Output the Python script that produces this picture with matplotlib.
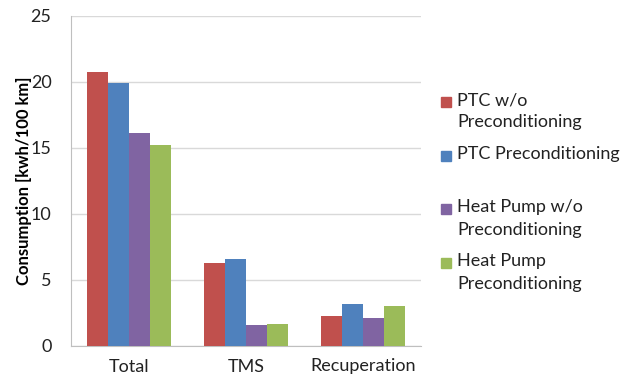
import matplotlib.pyplot as plt
from matplotlib.patches import Rectangle
import numpy as np

plt.rcParams['font.family'] = ['Lato', 'DejaVu Sans']

categories = ['Total', 'TMS', 'Recuperation']
series = ['PTC w/o\nPreconditioning', 'PTC Preconditioning',
          'Heat Pump w/o\nPreconditioning', 'Heat Pump\nPreconditioning']
ptc_wo = [20.75, 6.3, 2.27]
ptc_pre = [19.95, 6.6, 3.18]
hp_wo = [16.1, 1.57, 2.14]
hp_pre = [15.2, 1.64, 3.03]
colors = ['#C0504D', '#4F81BD', '#8064A2', '#9BBB59']

values = [ptc_wo, ptc_pre, hp_wo, hp_pre]

fig = plt.figure(figsize=(6.3, 3.81), dpi=100)
ax = fig.add_axes([71 / 630, 35 / 381, 350 / 630, 330 / 381])

x = np.arange(len(categories))
w = 0.18
for i, (vals, c) in enumerate(zip(values, colors)):
    ax.bar(x + (i - 1.5) * w, vals, w, color=c, zorder=3)

ax.set_xlim(-0.5, 2.5)
ax.set_ylim(0, 25)
ax.set_yticks([0, 5, 10, 15, 20, 25])
ax.set_xticks(x)
ax.set_xticklabels(categories)
ax.tick_params(axis='both', length=0, labelsize=13, colors='#222222')
ax.tick_params(axis='y', pad=14)
ax.tick_params(axis='x', pad=9)
ax.grid(axis='y', color='#D9D9D9', linewidth=1, zorder=0)
for s in ['top', 'right']:
    ax.spines[s].set_visible(False)
for s in ['left', 'bottom']:
    ax.spines[s].set_color('#BFBFBF')
ax.set_ylabel('Consumption [kwh/100 km]', fontsize=12, fontweight='bold')
ax.yaxis.set_label_coords(-39 / 350, 0.5)

# legend drawn by hand so the square sits on the first line of each label
ys = [102, 156, 209, 263]
for lab, c, yp in zip(series, colors, ys):
    fig.patches.append(Rectangle((441 / 630, 1 - (yp + 5) / 381), 10 / 630, 10 / 381,
                                 transform=fig.transFigure, color=c))
    fig.text(457 / 630, 1 - (yp - 10) / 381, lab, fontsize=13, va='top', ha='left',
             color='#222222', linespacing=1.5)

fig.savefig('out.png', dpi=100)
